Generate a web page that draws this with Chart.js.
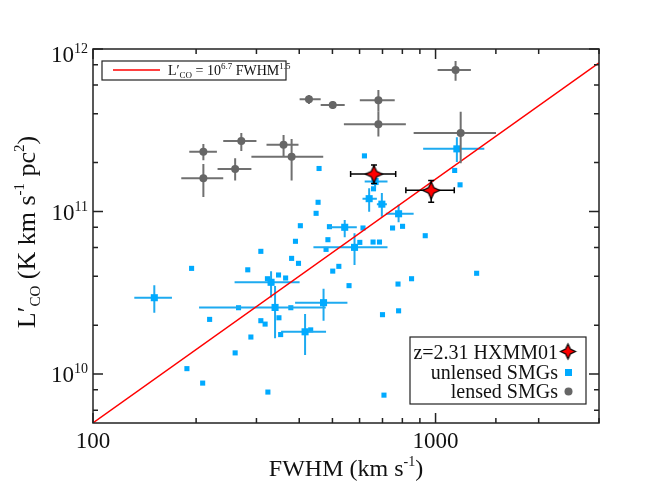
<!DOCTYPE html>
<html>
<head>
<meta charset="utf-8">
<script src="https://cdn.jsdelivr.net/npm/chart.js@4.4.0/dist/chart.umd.min.js"></script>
<style>
  body { margin: 0; background: #fff; }
</style>
</head>
<body>
<canvas id="coChart" width="664" height="487"></canvas>
<script>
// axis ranges and tick labels
var xRange = [100, 3000];
var yRange = [5e9, 1e12];
var xTickLabels = ["100", "1000"];
var yTickExp = ["10", "11", "12"];

// z=2.31 HXMM01
var hxX = [661, 971];
var hxY = [1.70e11, 1.35e11];
var hxXlo = [565, 819];
var hxXhi = [765, 1134];
var hxYlo = [1.49e11, 1.14e11];
var hxYhi = [1.93e11, 1.55e11];

// lensed SMGs
var lnX = [427, 501, 210, 210, 271, 260, 360, 380, 1144, 681, 681, 1184];
var lnY = [4.90e11, 4.52e11, 2.33e11, 1.60e11, 2.72e11, 1.83e11, 2.58e11, 2.17e11, 7.43e11, 4.83e11, 3.44e11, 3.04e11];
var lnXlo = [401, 462, 191, 181, 240, 231, 321, 290, 1014, 601, 540, 863];
var lnXhi = [462, 543, 230, 240, 300, 290, 398, 470, 1268, 760, 819, 1501];
var lnYlo = [4.59e11, 4.27e11, 2.07e11, 1.23e11, 2.36e11, 1.55e11, 2.17e11, 1.55e11, 6.38e11, 4.11e11, 2.89e11, 1.98e11];
var lnYhi = [5.21e11, 4.79e11, 2.60e11, 1.96e11, 3.04e11, 2.13e11, 2.96e11, 2.79e11, 8.44e11, 5.60e11, 4.11e11, 4.11e11];

// unlensed SMGs with error bars
var ueX = [1154, 666, 640, 697, 780, 151, 331, 340, 471, 416, 543, 580];
var ueY = [2.43e11, 1.53e11, 1.20e11, 1.11e11, 9.69e10, 2.95e10, 3.67e10, 2.57e10, 2.75e10, 1.82e10, 8.00e10, 6.02e10];
var ueXlo = [920, 621, 612, 674, 716, 132, 259, 204, 389, 354, 488, 440];
var ueXhi = [1388, 724, 674, 721, 863, 170, 401, 478, 553, 479, 589, 724];
var ueYlo = [2.02e11, 1.40e11, 9.97e10, 9.29e10, 8.60e10, 2.38e10, 2.96e10, 1.66e10, 2.13e10, 1.31e10, 6.94e10, 4.69e10];
var ueYhi = [2.86e11, 1.68e11, 1.39e11, 1.30e11, 1.10e11, 3.52e10, 4.29e10, 3.48e10, 3.35e10, 2.34e10, 8.86e10, 7.34e10];

// unlensed SMGs without error bars
var usX = [457, 454, 448, 620, 659, 1137, 1179, 403, 490, 390, 485, 479, 309, 380, 398, 194, 283, 501, 522, 559,
           348, 365, 323, 266, 378, 219, 349, 309, 318, 353, 289, 432, 260, 188, 209, 324, 614, 749, 801, 933,
           601, 657, 686, 777, 851, 1318, 700, 780, 707];
var usY = [1.84e11, 1.14e11, 9.75e10, 2.20e11, 1.38e11, 1.79e11, 1.46e11, 8.18e10, 8.07e10, 6.56e10, 6.71e10, 5.85e10,
           5.69e10, 5.15e10, 4.80e10, 4.47e10, 4.38e10, 4.30e10, 4.60e10, 3.50e10, 4.07e10, 3.90e10, 3.86e10, 2.56e10,
           2.56e10, 2.17e10, 2.22e10, 2.13e10, 2.03e10, 1.75e10, 1.69e10, 1.87e10, 1.35e10, 1.08e10, 8.80e9, 7.75e9,
           7.92e10, 7.92e10, 8.11e10, 7.10e10, 6.46e10, 6.49e10, 6.49e10, 3.58e10, 3.86e10, 4.17e10, 2.32e10, 2.45e10, 7.42e9];

// L'CO = 10^6.7 FWHM^1.5 line, end points
var fitX = [100, 3000];
var fitY = [5.01e9, 8.22e11];

var FONT = "'Liberation Serif', 'DejaVu Serif', serif";

function toPoints(xs, ys) {
  return xs.map(function (x, i) { return { x: x, y: ys[i] }; });
}

function makeStar(r) {
  var c = document.createElement("canvas");
  var s = Math.ceil(r * 2 + 4);
  c.width = s;
  c.height = s;
  var g = c.getContext("2d");
  var m = s / 2, k = r * 0.32;
  g.beginPath();
  g.moveTo(m, m - r);
  g.lineTo(m + k, m - k);
  g.lineTo(m + r, m);
  g.lineTo(m + k, m + k);
  g.lineTo(m, m + r);
  g.lineTo(m - k, m + k);
  g.lineTo(m - r, m);
  g.lineTo(m - k, m - k);
  g.closePath();
  g.fillStyle = "#ff0000";
  g.fill();
  g.lineWidth = 1.2;
  g.strokeStyle = "#000";
  g.stroke();
  return c;
}

function drawRich(ctx, parts, x, y, align) {
  var w = 0;
  parts.forEach(function (p) {
    ctx.font = p.size + "px " + FONT;
    w += ctx.measureText(p.t).width;
  });
  var cx = align === "center" ? x - w / 2 : (align === "right" ? x - w : x);
  ctx.textAlign = "left";
  ctx.textBaseline = "alphabetic";
  parts.forEach(function (p) {
    ctx.font = p.size + "px " + FONT;
    ctx.fillText(p.t, cx, y + (p.dy || 0));
    cx += ctx.measureText(p.t).width;
  });
}

// error bars drawn just before each dataset's points
var errorBars = {
  id: "errorBars",
  beforeDatasetDraw: function (chart, args) {
    var ds = chart.data.datasets[args.index];
    if (!ds.err) return;
    var ctx = chart.ctx, xs = chart.scales.x, ys = chart.scales.y, e = ds.err;
    ctx.save();
    ctx.strokeStyle = e.color;
    ctx.lineWidth = e.width;
    ds.data.forEach(function (p, i) {
      var px = xs.getPixelForValue(p.x), py = ys.getPixelForValue(p.y);
      var x0 = xs.getPixelForValue(e.xlo[i]), x1 = xs.getPixelForValue(e.xhi[i]);
      var y0 = ys.getPixelForValue(e.ylo[i]), y1 = ys.getPixelForValue(e.yhi[i]);
      ctx.beginPath();
      ctx.moveTo(x0, py); ctx.lineTo(x1, py);
      ctx.moveTo(px, y0); ctx.lineTo(px, y1);
      if (e.cap) {
        ctx.moveTo(x0, py - e.cap); ctx.lineTo(x0, py + e.cap);
        ctx.moveTo(x1, py - e.cap); ctx.lineTo(x1, py + e.cap);
        ctx.moveTo(px - e.cap, y0); ctx.lineTo(px + e.cap, y0);
        ctx.moveTo(px - e.cap, y1); ctx.lineTo(px + e.cap, y1);
      }
      ctx.stroke();
    });
    ctx.restore();
  }
};

// frame, inward ticks, labels, titles and legends
var frameAndText = {
  id: "frameAndText",
  afterDraw: function (chart) {
    var ctx = chart.ctx, a = chart.chartArea, xs = chart.scales.x, ys = chart.scales.y;
    ctx.save();
    ctx.strokeStyle = "#222";
    ctx.lineWidth = 1.5;
    ctx.strokeRect(a.left, a.top, a.right - a.left, a.bottom - a.top);

    ctx.beginPath();
    xs.ticks.forEach(function (t) {
      var lg = Math.log10(t.value), len = Math.abs(lg - Math.round(lg)) < 1e-6 ? 10 : 5;
      var p = xs.getPixelForValue(t.value);
      ctx.moveTo(p, a.bottom); ctx.lineTo(p, a.bottom - len);
      ctx.moveTo(p, a.top); ctx.lineTo(p, a.top + len);
    });
    ys.ticks.forEach(function (t) {
      var lg = Math.log10(t.value), len = Math.abs(lg - Math.round(lg)) < 1e-6 ? 10 : 5;
      var p = ys.getPixelForValue(t.value);
      ctx.moveTo(a.left, p); ctx.lineTo(a.left + len, p);
      ctx.moveTo(a.right, p); ctx.lineTo(a.right - len, p);
    });
    ctx.stroke();

    ctx.fillStyle = "#111";
    // x tick labels
    xTickLabels.forEach(function (lab) {
      drawRich(ctx, [{ t: lab, size: 23 }], xs.getPixelForValue(Number(lab)), 448, "center");
    });
    // y tick labels
    yTickExp.forEach(function (ex) {
      var py = ys.getPixelForValue(Math.pow(10, Number(ex)));
      var base = Math.max(py + 8, a.top + 13);
      drawRich(ctx, [{ t: "10", size: 23 }, { t: ex, size: 14, dy: -9 }], 88, base, "right");
    });

    // axis titles
    drawRich(ctx, [{ t: "FWHM (km s", size: 24 }, { t: "-1", size: 14, dy: -10 }, { t: ")", size: 24 }],
      (a.left + a.right) / 2, 476, "center");
    ctx.save();
    ctx.translate(35, (a.top + a.bottom) / 2 - 4);
    ctx.rotate(-Math.PI / 2);
    drawRich(ctx, [{ t: "L\u2032", size: 26 }, { t: "CO", size: 15, dy: 5 }, { t: " (K km s", size: 26 },
      { t: "-1", size: 15, dy: -11 }, { t: " pc", size: 26 }, { t: "2", size: 15, dy: -11 }, { t: ")", size: 26 }],
      0, 0, "center");
    ctx.restore();

    // top-left legend
    ctx.fillStyle = "#fff";
    ctx.fillRect(102, 61, 184, 19);
    ctx.strokeStyle = "#222";
    ctx.lineWidth = 1.2;
    ctx.strokeRect(102, 61, 184, 19);
    ctx.strokeStyle = "#ff0000";
    ctx.lineWidth = 1.5;
    ctx.beginPath();
    ctx.moveTo(113, 70); ctx.lineTo(160, 70);
    ctx.stroke();
    ctx.fillStyle = "#111";
    drawRich(ctx, [{ t: "L\u2032", size: 14 }, { t: "CO", size: 9, dy: 3 }, { t: " = 10", size: 14 },
      { t: "6.7", size: 9, dy: -6 }, { t: " FWHM", size: 14 }, { t: "1.5", size: 9, dy: -6 }], 168, 75, "left");

    // bottom-right legend
    ctx.fillStyle = "#fff";
    ctx.fillRect(410, 337, 176, 67);
    ctx.strokeStyle = "#222";
    ctx.lineWidth = 1.2;
    ctx.strokeRect(410, 337, 176, 67);
    ctx.fillStyle = "#111";
    drawRich(ctx, [{ t: "z=2.31 HXMM01", size: 20 }], 558, 358.5, "right");
    drawRich(ctx, [{ t: "unlensed SMGs", size: 20 }], 558, 378.5, "right");
    drawRich(ctx, [{ t: "lensed SMGs", size: 20 }], 558, 398, "right");
    var st = makeStar(7.5);
    ctx.drawImage(st, 568 - st.width / 2, 351.5 - st.height / 2);
    ctx.fillStyle = "#00aaff";
    ctx.fillRect(565, 369, 7, 7);
    ctx.fillStyle = "#666";
    ctx.beginPath();
    ctx.arc(568.5, 391.5, 4, 0, Math.PI * 2);
    ctx.fill();
    ctx.restore();
  }
};

var ctx = document.getElementById("coChart").getContext("2d");
var coChart = new Chart(ctx, {
  type: "scatter",
  data: {
    datasets: [
      {
        label: "z=2.31 HXMM01",
        data: toPoints(hxX, hxY),
        pointStyle: makeStar(8.5),
        pointRadius: 9,
        err: { xlo: hxXlo, xhi: hxXhi, ylo: hxYlo, yhi: hxYhi, color: "#000", width: 1.5, cap: 3 },
      },
      {
        label: "lensed SMGs",
        data: toPoints(lnX, lnY),
        pointStyle: "circle",
        pointRadius: 4,
        backgroundColor: "#666",
        borderWidth: 0,
        err: { xlo: lnXlo, xhi: lnXhi, ylo: lnYlo, yhi: lnYhi, color: "#707070", width: 2 },
      },
      {
        label: "fit",
        data: toPoints(fitX, fitY),
        showLine: true,
        pointRadius: 0,
        borderColor: "#ff0000",
        borderWidth: 1.5,
      },
      {
        label: "unlensed SMGs",
        data: toPoints(ueX, ueY),
        pointStyle: "rect",
        pointRadius: 5,
        backgroundColor: "#00aaff",
        borderWidth: 0,
        err: { xlo: ueXlo, xhi: ueXhi, ylo: ueYlo, yhi: ueYhi, color: "#1eaaf0", width: 2 },
      },
      {
        label: "unlensed SMGs (no errors)",
        data: toPoints(usX, usY),
        pointStyle: "rect",
        pointRadius: 3.6,
        backgroundColor: "#00aaff",
        borderWidth: 0,
      },
    ],
  },
  options: {
    responsive: false,
    animation: false,
    layout: { padding: { left: 93, right: 65, top: 49, bottom: 64 } },
    plugins: { legend: { display: false }, tooltip: { enabled: false } },
    scales: {
      x: { type: "logarithmic", min: xRange[0], max: xRange[1], display: false },
      y: { type: "logarithmic", min: yRange[0], max: yRange[1], display: false },
    },
  },
  plugins: [errorBars, frameAndText],
});
</script>
</body>
</html>
